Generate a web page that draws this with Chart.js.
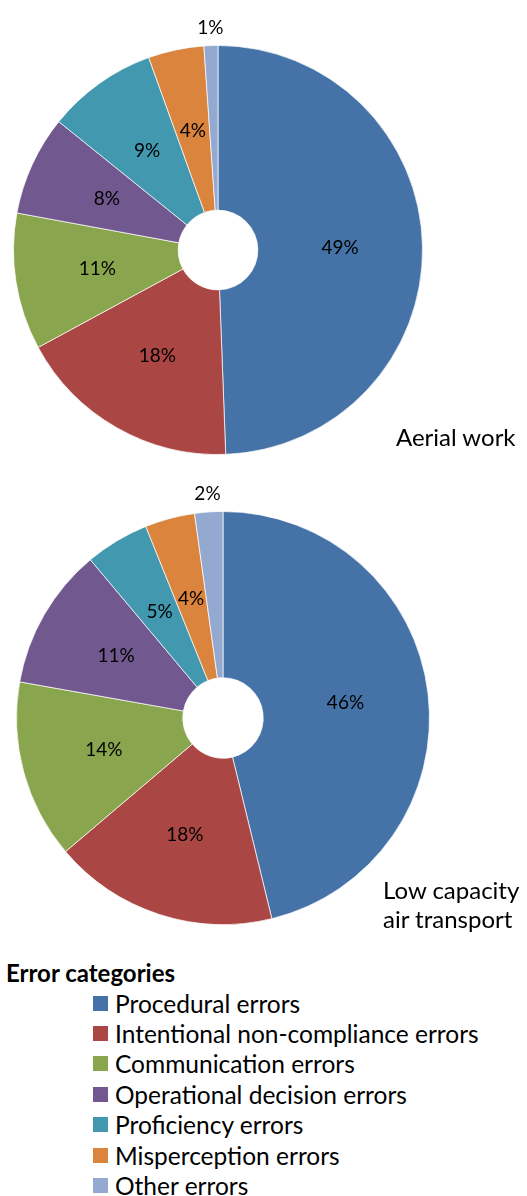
<!DOCTYPE html>
<html>
<head>
<meta charset="utf-8">
<script src="https://cdn.jsdelivr.net/npm/chart.js@4.4.0/dist/chart.umd.min.js"></script>
<style>
  body { margin: 0; background: #fff; font-family: Lato, "Open Sans", sans-serif; }
  #wrap { position: relative; width: 527px; height: 1196px; overflow: hidden; }
  .box { position: absolute; left: 0; width: 527px; height: 470px; }
  .name { position: absolute; font-size: 24px; color: #000; line-height: 29px; }
  #legendTitle { position: absolute; left: 6px; top: 958px; font-size: 24px; font-weight: bold; line-height: 30px; }
  #legend { position: absolute; left: 93px; top: 988px; }
  .row { height: 30.4px; display: flex; align-items: center; font-size: 24.5px; }
  .sw { width: 15px; height: 15px; margin-right: 7px; }
</style>
</head>
<body>
<div id="wrap">
  <div class="box" style="top:0"><canvas id="c1"></canvas></div>
  <div class="box" style="top:470px"><canvas id="c2"></canvas></div>
  <div class="name" style="left:396px; top:422px;">Aerial work</div>
  <div class="name" style="left:383px; top:875px;">Low capacity<br>air transport</div>
  <div id="legendTitle">Error categories</div>
  <div id="legend"></div>
</div>
<script>
const categories = [
  'Procedural errors',
  'Intentional non-compliance errors',
  'Communication errors',
  'Operational decision errors',
  'Proficiency errors',
  'Misperception errors',
  'Other errors'
];
const colors = ['#4572A7', '#AA4643', '#89A54E', '#71588F', '#4198AF', '#DB843D', '#93A9CF'];

const aerialWork = [49.4, 17.7, 10.8, 7.9, 8.7, 4.4, 1.1];
const aerialLabels = ['49%', '18%', '11%', '8%', '9%', '4%', '1%'];
const lowCapacity = [46.2, 17.6, 14.0, 11.1, 5.0, 3.9, 2.2];
const lowCapacityLabels = ['46%', '18%', '14%', '11%', '5%', '4%', '2%'];

// draw the percentage labels, small slices go outside the ring
const sliceLabels = {
  id: 'sliceLabels',
  afterDatasetsDraw(chart, args, opts) {
    const ctx = chart.ctx;
    const meta = chart.getDatasetMeta(0);
    const values = chart.data.datasets[0].data;
    ctx.save();
    ctx.font = '19px Lato, "Open Sans", sans-serif';
    ctx.fillStyle = '#000';
    ctx.textAlign = 'center';
    ctx.textBaseline = 'middle';
    meta.data.forEach((arc, i) => {
      const p = arc.getProps(['x', 'y', 'startAngle', 'endAngle', 'innerRadius', 'outerRadius'], true);
      const mid = (p.startAngle + p.endAngle) / 2;
      const r = values[i] < 3 ? p.outerRadius + 18 : (p.innerRadius + p.outerRadius) / 2;
      ctx.fillText(opts.texts[i], p.x + Math.cos(mid) * r, p.y + Math.sin(mid) * r);
    });
    ctx.restore();
  }
};

function makeDoughnut(id, values, texts, padding) {
  new Chart(document.getElementById(id), {
    type: 'doughnut',
    data: {
      labels: categories,
      datasets: [{
        data: values,
        backgroundColor: colors,
        borderColor: 'rgba(255,255,255,0.7)',
        borderWidth: 1
      }]
    },
    options: {
      responsive: true,
      maintainAspectRatio: false,
      animation: false,
      cutout: '19.5%',
      layout: { padding: padding },
      plugins: {
        legend: { display: false },
        tooltip: { enabled: false },
        sliceLabels: { texts: texts }
      }
    },
    plugins: [sliceLabels]
  });
}

makeDoughnut('c1', aerialWork, aerialLabels, { left: 13, top: 45, right: 104, bottom: 15 });
makeDoughnut('c2', lowCapacity, lowCapacityLabels, { left: 16, top: 41, right: 97, bottom: 15 });

const legend = document.getElementById('legend');
categories.forEach((name, i) => {
  const row = document.createElement('div');
  row.className = 'row';
  row.innerHTML = '<span class="sw" style="background:' + colors[i] + '"></span><span>' + name + '</span>';
  legend.appendChild(row);
});
</script>
</body>
</html>
